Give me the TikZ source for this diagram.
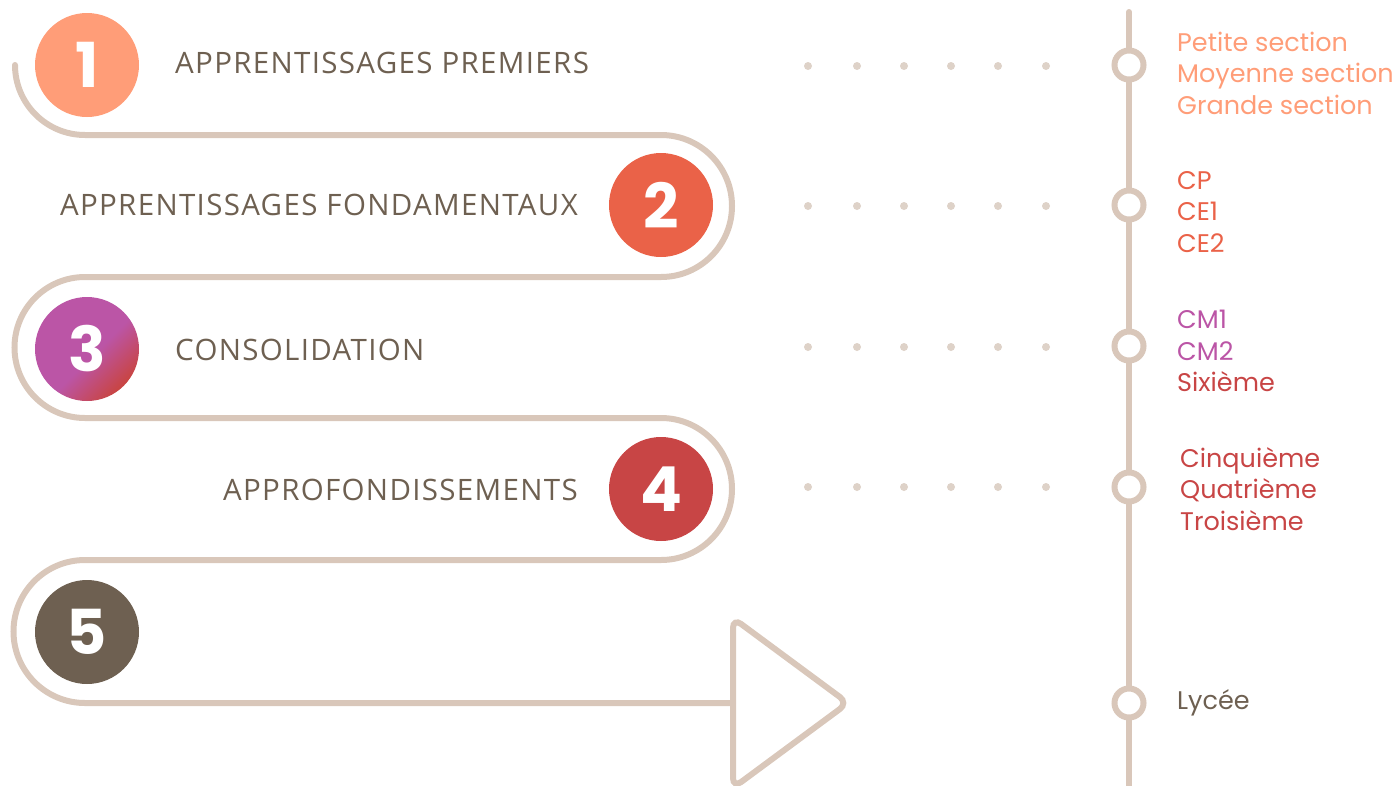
\documentclass[tikz,border=0pt]{standalone}
\usepackage{fontspec}
\setmainfont{Poppins}
\newfontfamily\stagefont[LetterSpace=4.5]{Open Sans}
\usetikzlibrary{positioning}

\definecolor{TrailBeige}{RGB}{217,199,186}
\definecolor{DotBeige}{RGB}{222,210,200}
\definecolor{Salmon}{RGB}{255,157,120}
\definecolor{Coral}{RGB}{234,98,72}
\definecolor{Plum}{RGB}{187,85,166}
\definecolor{Brick}{RGB}{200,69,69}
\definecolor{Umber}{RGB}{110,96,81}

\pgfdeclarehorizontalshading{consolidation}{100bp}{color(0bp)=(Plum); color(54bp)=(Plum); color(74bp)=(Brick); color(100bp)=(Brick)}

\begin{document}
\begin{tikzpicture}[x=1pt, y=-1pt,
        trail/.style={draw=TrailBeige, line width=6pt},
        num/.style={circle, minimum size=104pt, inner sep=0pt, text=white, font=\fontsize{62}{62}\selectfont\bfseries},
        stage/.style={inner sep=0pt, text=Umber, font=\stagefont\fontsize{29.5}{29.5}\selectfont},
        stop/.style={circle, draw=TrailBeige, line width=6pt, fill=white, minimum size=29pt, inner sep=0pt},
        level/.style={anchor=west, align=left, inner sep=0pt, font=\fontsize{25.5}{31.5}\selectfont}]

        \useasboundingbox (0,0) rectangle (1400,785);

        % Winding trail
        \draw[trail, line cap=round] (15,65) arc[start angle=180, end angle=90, radius=70]
            -- (661,135) arc[start angle=-90, end angle=90, radius=71]
            -- (85,277) arc[start angle=270, end angle=90, radius=70.5]
            -- (661,418) arc[start angle=-90, end angle=90, radius=71]
            -- (85,560) arc[start angle=270, end angle=90, radius=71.5]
            -- (733,703);
        \draw[trail, rounded corners=10pt] (733,618) -- (848,703) -- (733,788) -- cycle;

        % Step 1
        \node[num, fill=Salmon] (n1) at (87,65) {1};
        \node[stage, anchor=west] (t1) at (175,63) {APPRENTISSAGES PREMIERS};

        % Step 2
        \node[num, fill=Coral] (n2) at (661,205) {2};
        \node[stage, anchor=east] (t2) at (578,205) {APPRENTISSAGES FONDAMENTAUX};

        % Step 3
        \node[num, shading=consolidation, shading angle=-45] (n3) at (87,349) {3};
        \node[stage, anchor=west] (t3) at (175,350) {CONSOLIDATION};

        % Step 4
        \node[num, fill=Brick] (n4) at (661,489) {4};
        \node[stage, anchor=east] (t4) at (578,490) {APPROFONDISSEMENTS};

        % Step 5
        \node[num, fill=Umber] (n5) at (87,632) {5};

        % Dotted leaders
        \foreach \y in {66,206,347,487}
            \foreach \x in {808,857,904,951,998,1046}
                \fill[DotBeige] (\x,\y) circle[radius=4];

        % Timeline
        \coordinate (railtop) at (1129,12);
        \coordinate (railend) at (1129,790);
        \draw[trail, line cap=round] (railtop) -- (railend);

        \node[stop] (s1) at (1129,65) {};
        \node[stop] (s2) at (1129,205) {};
        \node[stop] (s3) at (1129,346) {};
        \node[stop] (s4) at (1129,487) {};
        \node[stop] (s5) at (1129,703) {};

        % Levels
        \node[level, text=Salmon] (l1) at (1177,73) {Petite section\\Moyenne section\\Grande section};
        \node[level, text=Coral] (l2) at (1177,212) {CP\\CE1\\CE2};
        \node[level] (l3) at (1177,351) {\textcolor{Plum}{CM1}\\\textcolor{Plum}{CM2}\\\textcolor{Brick}{Sixième}};
        \node[level, text=Brick] (l4) at (1180,489) {Cinquième\\Quatrième\\Troisième};
        \node[level, text=Umber] (l5) at (1177,703) {Lycée};

    \end{tikzpicture}
\end{document}
